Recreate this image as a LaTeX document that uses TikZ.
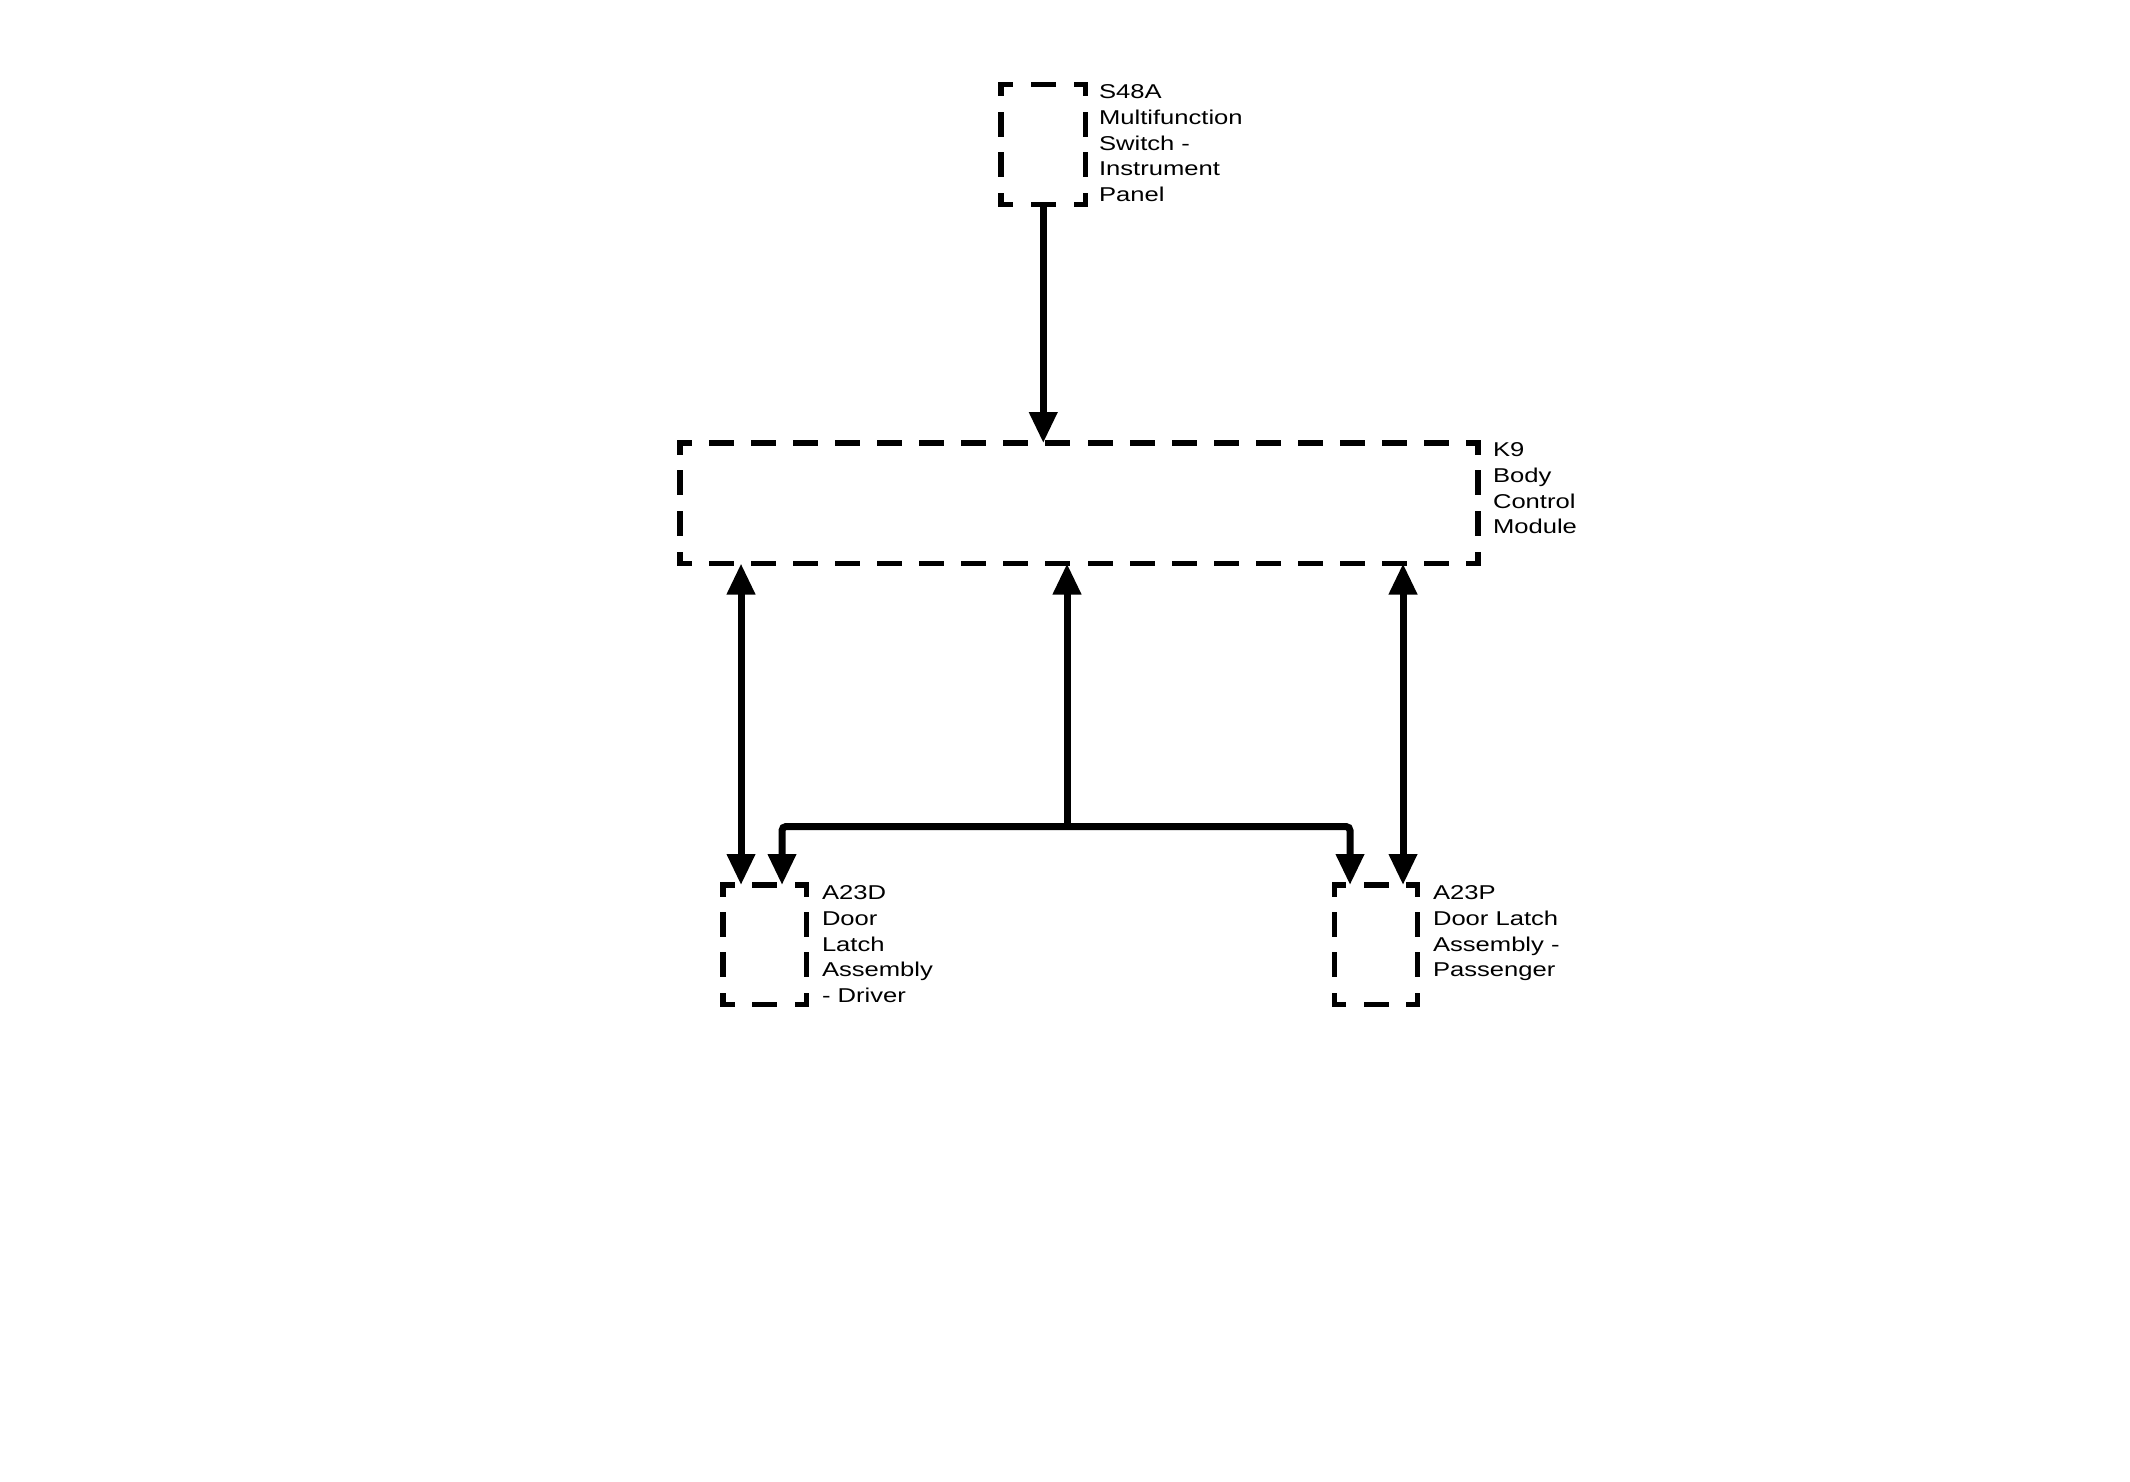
\documentclass[tikz,border=0pt]{standalone}
\usepackage{fontspec}
\setmainfont{Liberation Sans}
\newfontfamily\lblfont[FakeStretch=1.28]{Liberation Sans}
\usetikzlibrary{arrows.meta,calc}
\begin{document}
\begin{tikzpicture}[x=0.5pt,y=-0.5pt,
  box/.style={rectangle, draw=none, inner sep=0pt, outer sep=0pt},
  bd/.style={line width=2.75pt, line cap=rect, dash pattern=on 9.75pt off #1, dash phase=5.35pt},
  wire/.style={line width=3.5pt},
  tip/.style={-{Triangle[width=13.5pt,length=15.5pt]}},
  dtip/.style={{Triangle[width=13.5pt,length=15.5pt]}-{Triangle[width=13.5pt,length=15.5pt]}},
  lbl/.style={inner sep=0pt, outer sep=0pt, align=left, font=\lblfont\fontsize{10pt}{12.8pt}\selectfont, anchor=north west}]
\useasboundingbox (0,0) rectangle (2130,1482);

% boxes
\node[box, minimum width=42.25pt, minimum height=60pt] (s48) at (1043.25,144.5) {};
\node[box, minimum width=399pt, minimum height=60.25pt] (k9) at (1079,503.25) {};
\node[box, minimum width=41.75pt, minimum height=59.75pt] (drv) at (764.75,944.75) {};
\node[box, minimum width=41.5pt, minimum height=59.75pt] (pas) at (1376,944.75) {};

% dashed borders
\draw[bd=11.85pt] (s48.north west) -- (s48.north east);
\draw[bd=11.85pt] (s48.south west) -- (s48.south east);
\draw[bd=10.57pt] (s48.north west) -- (s48.south west);
\draw[bd=10.57pt] (s48.north east) -- (s48.south east);

\draw[bd=11.3pt] (k9.north west) -- (k9.north east);
\draw[bd=11.3pt] (k9.south west) -- (k9.south east);
\draw[bd=10.65pt] (k9.north west) -- (k9.south west);
\draw[bd=10.65pt] (k9.north east) -- (k9.south east);

\draw[bd=11.6pt] (drv.north west) -- (drv.north east);
\draw[bd=11.6pt] (drv.south west) -- (drv.south east);
\draw[bd=10.48pt] (drv.north west) -- (drv.south west);
\draw[bd=10.48pt] (drv.north east) -- (drv.south east);

\draw[bd=11.48pt] (pas.north west) -- (pas.north east);
\draw[bd=11.48pt] (pas.south west) -- (pas.south east);
\draw[bd=10.48pt] (pas.north west) -- (pas.south west);
\draw[bd=10.48pt] (pas.north east) -- (pas.south east);

% labels (first baseline minus cap height)
\node[lbl] (s48l) at (1099,85) {S48A\\Multifunction\\Switch -\\Instrument\\Panel};
\node[lbl] (k9l) at (1493,443) {K9\\Body\\Control\\Module};
\node[lbl] (drvl) at (822,886) {A23D\\Door\\Latch\\Assembly\\- Driver};
\node[lbl] (pasl) at (1433,886) {A23P\\Door Latch\\Assembly -\\Passenger};

% connector end points
\coordinate (dl) at ($(drv.north west)+(18,0)$);
\coordinate (db) at ($(drv.north west)+(59,0)$);
\coordinate (pb) at ($(pas.north west)+(15.5,0)$);
\coordinate (pr) at ($(pas.north west)+(68.5,0)$);
\coordinate (jn) at (1067,826.5);

% connectors
\draw[wire,tip] (s48.south) -- (s48.south |- k9.north);
\draw[wire,dtip] (dl |- k9.south) -- (dl);
\draw[wire,dtip] (pr |- k9.south) -- (pr);
\draw[wire,tip] (jn) -- (jn |- k9.south);
\draw[wire,dtip,rounded corners=2pt] (db) -- (db |- jn) -- (pb |- jn) -- (pb);
\end{tikzpicture}
\end{document}
